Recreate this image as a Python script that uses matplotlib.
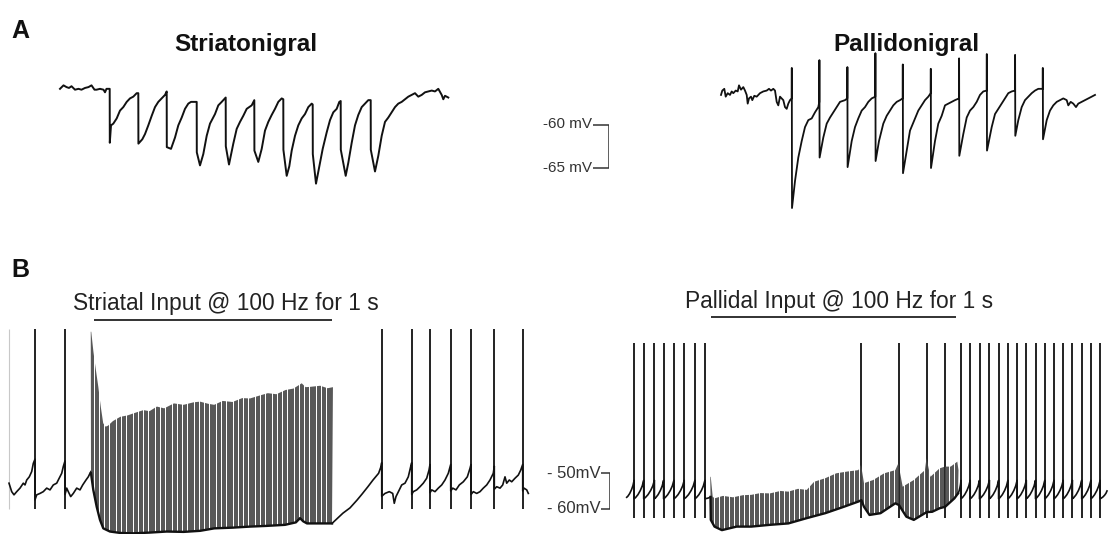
"""
Nigral responses to striatal vs pallidal input.
A: averaged IPSP trains, B: firing during 100 Hz / 1 s stimulation.
"""

import numpy as np
import matplotlib
matplotlib.use("Agg")
import matplotlib.pyplot as plt
from matplotlib.patches import Polygon

plt.rcParams["font.family"] = ["Liberation Sans", "DejaVu Sans"]

INK = "#111111"
PULSE = "#474747"
GREY_TXT = "#222222"

W, H = 1109, 534

# ---------------------------------------------------------------------------
# Panel A data  (time in ms, membrane potential in mV)
# ---------------------------------------------------------------------------
sn_t = [0, 7, 13, 18, 23, 30, 37, 43, 50, 57, 63, 69, 73, 80, 87, 90, 93, 99.4,
        99.6, 102, 106.6, 113.4, 120, 126.6, 133.4, 140, 146.6, 153.4, 156.6,
        156.8, 164.6, 170, 176.6, 183.4, 190, 196.6, 203.4, 210, 213.4,
        213.6, 222, 230, 236.6, 243.4, 250, 256.6, 262, 273.4,
        273.6, 280, 286.6, 293.4, 300, 310, 316.6, 323.4, 331.4,
        331.6, 338, 346.6, 353.4, 360, 366.6, 373.4, 383.4, 388.6,
        388.8, 396.6, 403.4, 410, 416.6, 423.4, 430, 436.6, 443.4, 446.6,
        446.8, 453.4, 458.6, 463.4, 470, 476.6, 483.4, 490, 496.6, 503.4, 505.4,
        505.6, 512, 518.6, 525.4, 533.4, 540, 546.6, 553.4, 558.6, 561.4,
        561.6, 571.4, 576.6, 583.4, 590, 596.6, 603.4, 610, 616.6, 621.4,
        621.6, 630, 636.6, 643.4, 650, 656.6, 663.4, 670, 676.6, 683.4, 690,
        696.6, 703.4, 710, 716.6, 723.4, 730, 736.6, 743.4, 750, 756.6, 763.4,
        766.6, 770, 776.6]
sn_v = [-55.9, -55.5, -55.7, -55.8, -55.6, -56.0, -55.9, -56.0, -55.8, -55.7,
        -55.5, -56.0, -56.0, -55.9, -56.0, -56.3, -55.9, -55.9,
        -62.1, -60.1, -59.9, -59.3, -58.4, -58.0, -57.4, -57.0, -56.8, -56.4, -56.4,
        -62.2, -61.7, -61.1, -60.1, -59.0, -58.0, -57.4, -57.0, -56.6, -56.2,
        -62.6, -62.8, -61.5, -60.1, -59.2, -58.2, -57.6, -57.4, -57.4,
        -63.2, -64.7, -63.4, -61.3, -59.9, -58.8, -57.8, -57.4, -56.9,
        -62.5, -64.6, -62.2, -60.5, -59.7, -59.0, -58.2, -57.8, -57.2,
        -63.0, -64.3, -62.8, -60.7, -59.7, -58.9, -58.2, -57.4, -57.0, -57.1,
        -62.9, -65.9, -64.8, -63.0, -61.3, -60.1, -59.3, -58.8, -58.0, -57.6, -57.7,
        -63.4, -66.8, -64.8, -62.8, -60.9, -59.5, -58.6, -58.2, -57.4, -57.3,
        -62.9, -65.9, -64.4, -62.1, -60.1, -58.9, -58.0, -57.6, -57.2, -57.2,
        -62.9, -65.4, -63.6, -61.3, -59.7, -59.2, -58.6, -58.0, -57.6, -57.4, -57.1,
        -56.8, -56.6, -56.4, -56.8, -56.6, -56.3, -56.2, -56.1, -56.2, -55.9, -56.6,
        -57.1, -56.7, -56.9]

pn_t = [0, 2.6, 6.6, 9.4, 13.4, 18, 21.4, 24.6, 29.4, 33.4, 36, 40, 44.6, 48,
        51.4, 53.4, 56, 60, 62.6, 66.6, 71.4, 78, 84.6, 91.4, 96, 100, 104.6,
        108, 111.4, 114.6, 118, 121.4, 124.6, 128, 131.4, 134.6, 138, 141.4,
        141.6, 142, 148, 154.6, 161.4, 168, 174.6, 181.4, 188, 194.6, 196.6,
        196.8, 197.2, 204.6, 211.4, 218, 224.6, 231.4, 238, 248, 252.6,
        252.8, 253.2, 261.4, 268, 274.6, 281.4, 288, 294.6, 301.4, 308.6,
        308.8, 309.2, 316, 324.6, 331.4, 338, 344.6, 351.4, 358, 363.4,
        363.6, 364, 371.4, 378, 388, 394.6, 401.4, 408, 414.6, 419.4,
        419.6, 420, 428, 434.6, 441.4, 448, 454.6, 461.4, 468, 476,
        476.2, 476.6, 484.6, 491.4, 498, 504.6, 511.4, 518, 524.6, 531.4,
        531.6, 532, 541.4, 548, 554.6, 561.4, 568, 574.6, 581.4, 588,
        588.2, 588.6, 594.6, 601.4, 608, 614.6, 621.4, 628, 634.6, 643.4,
        643.6, 644, 651.4, 658, 664.6, 671.4, 678, 684.6, 691.4, 694.6, 699.4,
        704.6, 710, 714.6, 721.4, 728, 734.6, 741.4, 748]
pn_v = [-56.6, -56.1, -55.9, -56.8, -56.4, -56.6, -56.2, -56.4, -56.1, -56.2,
        -55.5, -56.0, -55.7, -56.1, -56.6, -57.6, -57.0, -56.8, -57.2, -56.7,
        -56.8, -56.4, -56.2, -56.1, -55.9, -56.1, -55.9, -56.1, -57.4, -57.8,
        -56.8, -57.0, -57.2, -58.0, -58.2, -57.6, -57.2, -57.0,
        -53.5, -69.6, -66.5, -63.8, -61.9, -60.3, -59.5, -59.3, -58.6, -58.0, -57.4,
        -52.6, -63.8, -61.5, -59.9, -59.2, -58.6, -58.0, -57.4, -57.2, -57.0,
        -53.4, -64.9, -61.9, -60.3, -59.3, -58.4, -58.0, -57.4, -57.0, -56.8,
        -51.8, -64.2, -61.9, -59.9, -59.0, -58.4, -57.8, -57.4, -57.2, -57.0,
        -53.1, -65.6, -63.0, -60.7, -59.3, -58.4, -57.8, -57.2, -56.8, -56.4,
        -53.6, -65.0, -61.9, -59.9, -59.0, -57.8, -57.6, -57.4, -57.2, -57.0,
        -52.4, -63.6, -61.1, -59.2, -58.4, -58.0, -57.4, -56.6, -56.2, -56.1,
        -51.9, -63.0, -60.3, -58.8, -58.2, -57.6, -57.0, -56.4, -56.2, -56.1,
        -52.0, -61.3, -59.5, -58.0, -57.2, -56.8, -56.4, -56.1, -55.9, -55.9,
        -53.5, -61.7, -59.5, -58.4, -57.8, -57.4, -57.2, -57.0, -57.2, -57.8, -57.4,
        -57.6, -58.0, -57.6, -57.4, -57.2, -57.0, -56.8, -56.6]

# ---------------------------------------------------------------------------
# Panel B data  (time relative to train onset, ms; mV)
# ---------------------------------------------------------------------------
STIM_HZ, STIM_MS = 100, 1000

str_pre_t = [-336.2, -325.1, -315.7, -304.6, -291.1, -277.6, -270.6, -263.6,
             -253.0, -243.1, -236.6, -229.6, -229.5, -222.6, -209.1, -195.6,
             -181.6, -168.1, -154.6, -140.6, -134.1, -120.1, -113.6, -106.6,
             -106.5, -99.6, -93.1, -83.2, -72.6, -58.6, -45.1, -34.0, -20.5,
             -11.1, -4.1, 0]
str_pre_v = [-52.8, -55.2, -56.1, -55.2, -54.2, -52.8, -53.3, -51.9, -51.0,
             -49.5, -47.2, -46.0, -57.5, -56.1, -55.7, -55.2, -54.2, -54.7,
             -53.3, -52.8, -51.9, -50.0, -48.1, -46.5, -56.0, -54.2, -55.2,
             -56.6, -55.7, -54.2, -54.7, -53.3, -51.9, -51.0, -50.0, -49.5]

str_bot_t = [0, 9.4, 23.4, 36.9, 50.4, 77.9, 120, 173.4, 240, 310.4, 380, 446.9,
             505.5, 580, 651.9, 720, 795.4, 840, 856.9, 870, 885.6, 943, 988.1]
str_bot_v = [-50.0, -54.7, -59.5, -63.2, -65.6, -66.5, -66.9, -67.0, -66.8,
             -66.5, -66.6, -66.3, -65.6, -65.4, -65.1, -64.9, -64.6, -63.9,
             -62.7, -63.6, -64.2, -64.2, -64.2]

str_top_t = [-1, 1, 10, 20, 30, 40, 50, 60, 70, 90, 120, 150, 175, 215, 240, 270,
             300, 340, 380, 420, 447, 480, 505, 540, 580, 620, 652, 690, 725,
             760, 798, 830, 864, 880, 900, 940, 970, 992]
str_top_v = [-9.9, -9.9, -15.6, -20.7, -25.5, -31.1, -35.8, -36.8, -36.5, -35.2,
             -34.0, -33.6, -33.0, -32.1, -32.4, -31.1, -31.6, -30.2, -30.6,
             -29.9, -29.7, -30.3, -30.6, -29.5, -29.8, -28.7, -28.8, -28.0,
             -27.3, -27.6, -26.4, -26.0, -24.5, -25.6, -25.5, -25.2, -25.9, -25.6]

str_post_t = [988.1, 1032.8, 1061.9, 1090.6, 1111.1, 1135.3, 1156.2, 1179.2, 1189,
              1191.9, 1192.0, 1205.4, 1223, 1237, 1243.4, 1250.4, 1264, 1273.9,
              1287.4, 1300.9, 1310.8, 1314.9, 1315.0, 1321.4, 1335.4, 1348.9,
              1362.4, 1376.4, 1385.8, 1389.9, 1390.0, 1396.9, 1410.4, 1423.9,
              1437.9, 1451.4, 1464.9, 1474.8, 1474.9, 1483, 1496.5, 1510.1,
              1526.5, 1542.9, 1553.9, 1558, 1558.1, 1567.5, 1581.4, 1594.9,
              1608.4, 1622.4, 1635.9, 1649.4, 1653.5, 1653.6, 1663.4, 1677, 1688,
              1697.4, 1704.4, 1715.1, 1724.9, 1738.4, 1752, 1761.8, 1770, 1770.1,
              1775.3, 1786.4, 1793]
str_post_v = [-64.2, -61.3, -59.8, -57.6, -55.9, -53.8, -51.9, -50.0, -48.1,
              -47.0, -56.5, -55.7, -55.2, -55.7, -58.5, -56.6, -54.7, -53.3,
              -52.8, -51.0, -48.1, -47.0, -56.0, -55.2, -54.7, -53.8, -52.8,
              -51.4, -49.1, -47.5, -55.5, -54.7, -55.2, -54.2, -53.3, -51.9,
              -50.0, -47.5, -55.0, -54.2, -54.7, -53.3, -52.4, -51.0, -48.6,
              -47.5, -56.0, -55.2, -55.7, -55.2, -54.2, -53.3, -51.9, -50.0,
              -48.0, -54.5, -53.8, -54.2, -53.3, -51.0, -52.8, -51.9, -52.4,
              -51.4, -50.5, -49.1, -47.5, -55.0, -54.2, -54.7, -55.7]

str_spikes = [-229.6, -106.6, 1191.9, 1314.9, 1389.9, 1474.8, 1558, 1653.5, 1770]
STR_PEAK, STR_TROUGH = -9.2, -60.0

pal_pre_spikes = [-305.6, -267.2, -224.4, -187.6, -146.4, -105.2, -62.4, -22.4]
pal_train_spikes = [603.6, 754, 864.8, 938.4]
pal_post_spikes = [1002, 1038.8, 1076, 1115.6, 1152.4, 1189.6, 1226.4, 1263.2,
                   1300, 1337.2, 1374, 1410.8, 1447.6, 1484.8, 1521.6, 1558.4]
PAL_PEAK, PAL_TROUGH = -13.2, -62.7
PAL_AHP, PAL_THR = -57.2, -52.0

pal_top_t = [-1, 1, 8.8, 16, 50, 90, 130, 163.6, 200, 237.6, 280, 311.2, 350,
             385.2, 414.4, 458.8, 503.2, 547.2, 591.6, 602, 614, 650.8, 694.8,
             739.2, 751.2, 768.8, 813.2, 857.6, 864, 879.6, 916.4, 938, 960.8,
             987.2, 992]
pal_top_v = [-51.0, -51.0, -56.6, -57.1, -56.4, -56.8, -56.2, -56.1, -55.6,
             -55.7, -55.0, -55.2, -54.4, -54.7, -52.4, -51.4, -50.0, -49.5,
             -49.1, -47.6, -52.8, -51.9, -50.0, -49.1, -47.2, -53.8, -51.9,
             -49.1, -45.7, -51.0, -48.6, -48.1, -48.1, -46.7, -49.1]
pal_bot_t = [0, 1.2, 16, 45.6, 104.4, 163.6, 237.6, 311.2, 385.2, 458.8, 532.8,
             591.6, 603.6, 614, 636, 680, 739.2, 754, 783.6, 813.2, 857.6,
             864.8, 886.8, 916.4, 938.4, 975.6, 990]
pal_bot_v = [-56.7, -63.2, -65.1, -66.1, -65.1, -65.1, -64.6, -64.2, -62.7,
             -61.3, -59.5, -58.0, -57.6, -59.5, -61.8, -61.3, -58.5, -59.0,
             -62.3, -63.2, -61.3, -61.0, -60.9, -59.9, -59.5, -57.1, -55.7]

# shape of the slow depolarising ramp between spontaneous spikes (fractions)
RAMP_T = [0.0, 0.15, 0.4, 0.65, 0.85, 1.0]
RAMP_V = [0.0, 0.06, 0.22, 0.45, 0.7, 1.0]


# ---------------------------------------------------------------------------
# Helpers
# ---------------------------------------------------------------------------
fig = plt.figure(figsize=(W / 100, H / 100), dpi=100, facecolor="white")


def trace_axes(xlim, ylim, left_px, top_px, ms_per_px, px_per_mv):
    w = (xlim[1] - xlim[0]) / ms_per_px
    h = (ylim[1] - ylim[0]) * px_per_mv
    ax = fig.add_axes([left_px / W, 1 - (top_px + h) / H, w / W, h / H])
    ax.set_xlim(*xlim)
    ax.set_ylim(*ylim)
    ax.axis("off")
    return ax


def fig_text(x, y, s, **kw):
    fig.text(x / W, 1 - y / H, s, **kw)


def spiking_path(t_start, v_start, spikes, t_end, v_end, ahp, thr):
    knots = [t_start] + list(spikes) + [t_end]
    ts, vs = [], []
    for i in range(len(knots) - 1):
        a, b = knots[i], knots[i + 1]
        v0 = v_start if i == 0 else ahp
        v1 = v_end if i == len(knots) - 2 else thr
        for f, g in zip(RAMP_T, RAMP_V):
            ts.append(a + f * (b - a))
            vs.append(v0 + g * (v1 - v0))
    return ts, vs


def draw_train(ax, top_t, top_v, bot_t, bot_v):
    pulses = np.arange(0, STIM_MS, 1000 / STIM_HZ)
    verts = list(zip(top_t, top_v)) + list(zip(bot_t[::-1], bot_v[::-1]))
    poly = Polygon(verts, closed=True, fc="none", ec="none")
    ax.add_patch(poly)
    lc = ax.vlines(pulses, -75, 0, colors=PULSE, lw=1.3)
    lc.set_clip_path(poly)
    ax.plot(bot_t, bot_v, color=INK, lw=1.7, solid_joinstyle="round")


def scale_bar(left_px, width_px, top_px, ylim, px_per_mv, v_hi, v_lo, labels, size):
    ax = trace_axes((0, 1), ylim, left_px, top_px, 1 / width_px, px_per_mv)
    ax.plot([0, 1, 1, 0], [v_hi, v_hi, v_lo, v_lo], color="#333333", lw=1.1)
    for v, lab in zip((v_hi, v_lo), labels):
        ax.text(-0.06, v, lab, ha="right", va="center", fontsize=size,
                color="#333333")


# ---------------------------------------------------------------------------
# Panel A
# ---------------------------------------------------------------------------
A_YLIM = (-71, -50)
A_PX_MV = 8.7
A_TOP = 124.5 - (A_YLIM[1] + 60) * A_PX_MV

ax_sn = trace_axes((-10, 790), A_YLIM, 55, A_TOP, 2.0, A_PX_MV)
ax_sn.plot(sn_t, sn_v, color=INK, lw=1.4, solid_joinstyle="round")

ax_pn = trace_axes((-10, 760), A_YLIM, 716, A_TOP, 2.0, A_PX_MV)
ax_pn.plot(pn_t, pn_v, color=INK, lw=1.3, solid_joinstyle="round")

scale_bar(592.7, 16.6, A_TOP, A_YLIM, A_PX_MV, -60, -65,
          ("-60 mV", "-65 mV"), 11)

fig_text(11, 38, "A", fontsize=18, fontweight="bold", color=INK)
fig_text(245.5, 51.5, "Striatonigral", fontsize=17.5, fontweight="bold",
         ha="center", va="baseline", color=INK)
fig_text(906.8, 51.5, "Pallidonigral", fontsize=17.5, fontweight="bold",
         ha="center", va="baseline", color=INK)

# ---------------------------------------------------------------------------
# Panel B
# ---------------------------------------------------------------------------
B_YLIM = (-68, -5)
B_PX_MV = 3.53
B_TOP = 473.3 - (B_YLIM[1] + 50) * B_PX_MV

# striatal input
ax_st = trace_axes((-345, 1800), B_YLIM, 91 - 345 / 4.1, B_TOP, 4.1, B_PX_MV)
ax_st.vlines(str_pre_t[0], STR_TROUGH, STR_PEAK, colors="#c8c8c8", lw=0.8)
ax_st.plot(str_pre_t, str_pre_v, color=INK, lw=1.2)
ax_st.plot(str_post_t, str_post_v, color=INK, lw=1.2)
ax_st.vlines(str_spikes, STR_TROUGH, STR_PEAK, colors=INK, lw=1.3)
draw_train(ax_st, str_top_t, str_top_v, str_bot_t, str_bot_v)
ax_st.hlines(-6.7, 10.7, 988, colors=GREY_TXT, lw=1.3)

# pallidal input
ax_pl = trace_axes((-345, 1600), B_YLIM, 710.5 - 345 / 4.0, B_TOP, 4.0, B_PX_MV)
pre_t, pre_v = spiking_path(-335.2, -56.8, pal_pre_spikes, 0, -56.7,
                            PAL_AHP, PAL_THR)
post_t, post_v = spiking_path(990, -55.7, pal_post_spikes, 1586, -55.0,
                              PAL_AHP, PAL_THR)
ax_pl.plot(pre_t, pre_v, color=INK, lw=1.2)
ax_pl.plot(post_t, post_v, color=INK, lw=1.2)
ax_pl.vlines(pal_pre_spikes + pal_train_spikes + pal_post_spikes,
             PAL_TROUGH, PAL_PEAK, colors=INK, lw=1.3)
draw_train(ax_pl, pal_top_t, pal_top_v, pal_bot_t, pal_bot_v)
ax_pl.hlines(-5.8, 2, 982, colors=GREY_TXT, lw=1.3)

scale_bar(600.7, 9.3, B_TOP, B_YLIM, B_PX_MV, -50, -60,
          ("- 50mV", "- 60mV"), 12)

fig_text(11, 277, "B", fontsize=18, fontweight="bold", color=INK)
fig_text(225.5, 310, "Striatal Input @ 100 Hz for 1 s", fontsize=16.4,
         ha="center", va="baseline", color=GREY_TXT)
fig_text(839, 308.3, "Pallidal Input @ 100 Hz for 1 s", fontsize=16.4,
         ha="center", va="baseline", color=GREY_TXT)

fig.savefig("out.png", dpi=100, facecolor="white")
